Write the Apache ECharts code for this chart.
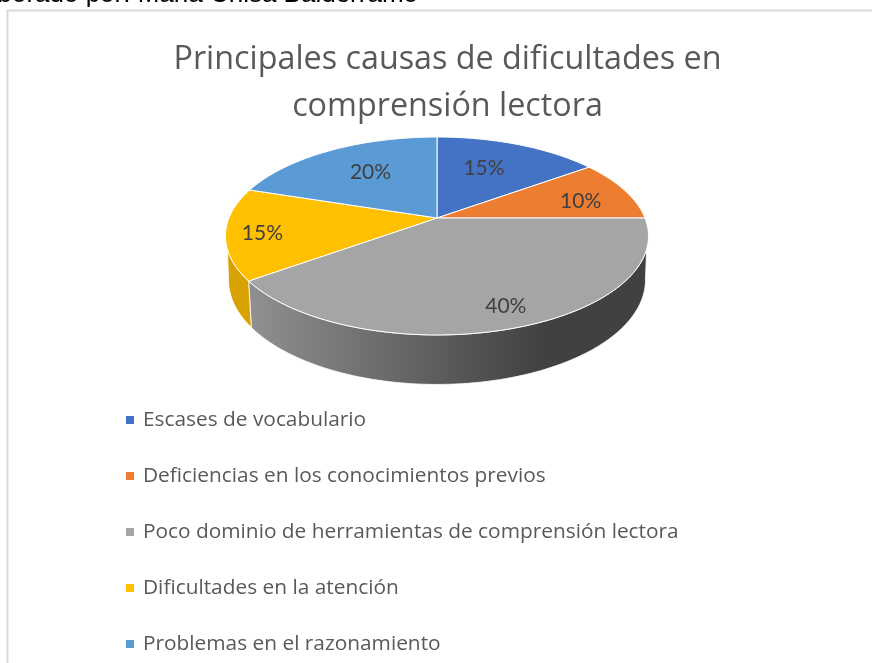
<!DOCTYPE html>
<html>
<head>
<meta charset="utf-8">
<style>html,body{margin:0;padding:0;background:#fff}#c{width:872px;height:663px}</style>
<script src="https://cdn.jsdelivr.net/npm/echarts@6/dist/echarts.min.js"></script>
</head>
<body>
<div id="c"></div>
<script>
const categories = [
  'Escases de vocabulario',
  'Deficiencias en los conocimientos previos',
  'Poco dominio de herramientas de comprensión lectora',
  'Dificultades en la atención',
  'Problemas en el razonamiento'
];
const values = [15, 10, 40, 15, 20];
const topColors = ['#4472C4', '#ED7D31', '#A5A5A5', '#FFC000', '#5B9BD5'];
const labelRadius = [0.64, 0.74, 0.83, 0.83, 0.645];
const labelShift = [-4, 3, -2, -1, 3];
const headerText = 'Elaborado por: Maria Chisa Balderramo';
const titleText = 'Principales causas de dificultades en\ncomprensión lectora';

const total = values.reduce((a, b) => a + b, 0);
const rad = d => d * Math.PI / 180;
// perspective projection of a disc; t is the clockwise angle from 12 o'clock
function project(t, r, face) {
  const s = r * Math.sin(rad(t)), c = r * Math.cos(rad(t));
  const d = 1 + 0.1818 * c;
  return [437 + face.w * s / d, face.y - face.h * c / d];
}
const TOP = {w: 208, h: 95.7, y: 218, from: 108, to: 252};
const BOTTOM = {w: 205, h: 101, y: 261, from: 100, to: 260};

function arc(a, b, face) {
  const pts = [], n = Math.max(2, Math.ceil(Math.abs(b - a) / 1.5));
  for (let i = 0; i <= n; i++) pts.push(project(a + (b - a) * i / n, 1, face));
  return pts;
}
const wallGrey = new echarts.graphic.LinearGradient(250, 0, 540, 0,
  [{offset: 0, color: '#909090'}, {offset: 1, color: '#414141'}], true);
const walls = [null, null, wallGrey, '#D8A300', null];

function makeRender(idx) {
  return function (params, api) {
    const v = api.value(0);
    let before = 0;
    for (let i = 0; i < idx; i++) before += values[i];
    const a = before / total * 360, b = (before + v) / total * 360;
    const children = [];
    if (walls[idx]) {
      const upper = arc(Math.max(a, TOP.from), Math.min(b, TOP.to), TOP);
      const lower = arc(Math.min(b, BOTTOM.to), Math.max(a, BOTTOM.from), BOTTOM);
      children.push({
        type: 'polygon',
        shape: {points: upper.concat(lower)},
        style: {fill: walls[idx], stroke: '#fff', lineWidth: 0.8}
      });
    }
    const apex = project(0, 0, TOP);
    children.push({
      type: 'polygon',
      shape: {points: [apex].concat(arc(a, b, TOP))},
      style: {fill: topColors[idx], stroke: '#fff', lineWidth: 1}
    });
    const p = project((a + b) / 2 + labelShift[idx], labelRadius[idx], TOP);
    children.push({
      type: 'text',
      z2: 10,
      style: {
        text: v + '%', x: p[0], y: p[1] + 1, align: 'center', verticalAlign: 'middle',
        fill: '#404040', font: '21px Lato'
      }
    });
    return {type: 'group', children};
  };
}

const chart = echarts.init(document.getElementById('c'), null, {renderer: 'canvas'});
chart.setOption({
  animation: false,
  backgroundColor: '#fff',
  title: {
    text: titleText,
    left: 447.5, top: 36, textAlign: 'center', padding: 0,
    textStyle: {fontFamily: 'Open Sans', fontSize: 32.3, fontWeight: 'normal', color: '#595959', lineHeight: 47}
  },
  legend: {
    orient: 'vertical', left: 126, top: 408, padding: 0,
    itemWidth: 8, itemHeight: 8, itemGap: 32, icon: 'rect',
    data: categories,
    selectedMode: false,
    textStyle: {fontFamily: 'Open Sans', fontSize: 20.85, lineHeight: 24, color: '#595959', padding: [0, 0, 0, 4]}
  },
  graphic: [
    {type: 'text', silent: true, style: {text: headerText, x: 418, y: -18, align: 'right', fill: '#000', font: '26px "Liberation Sans"'}},
    {type: 'rect', silent: true, shape: {x: 7.5, y: 10.5, width: 900, height: 700}, style: {fill: '#fff', stroke: '#D9D9D9', lineWidth: 2}}
  ],
  series: categories.map((name, i) => ({
    type: 'custom',
    name,
    coordinateSystem: 'none',
    itemStyle: {color: topColors[i]},
    data: [[values[i]]],
    renderItem: makeRender(i),
    silent: true
  }))
});
</script>
</body>
</html>
